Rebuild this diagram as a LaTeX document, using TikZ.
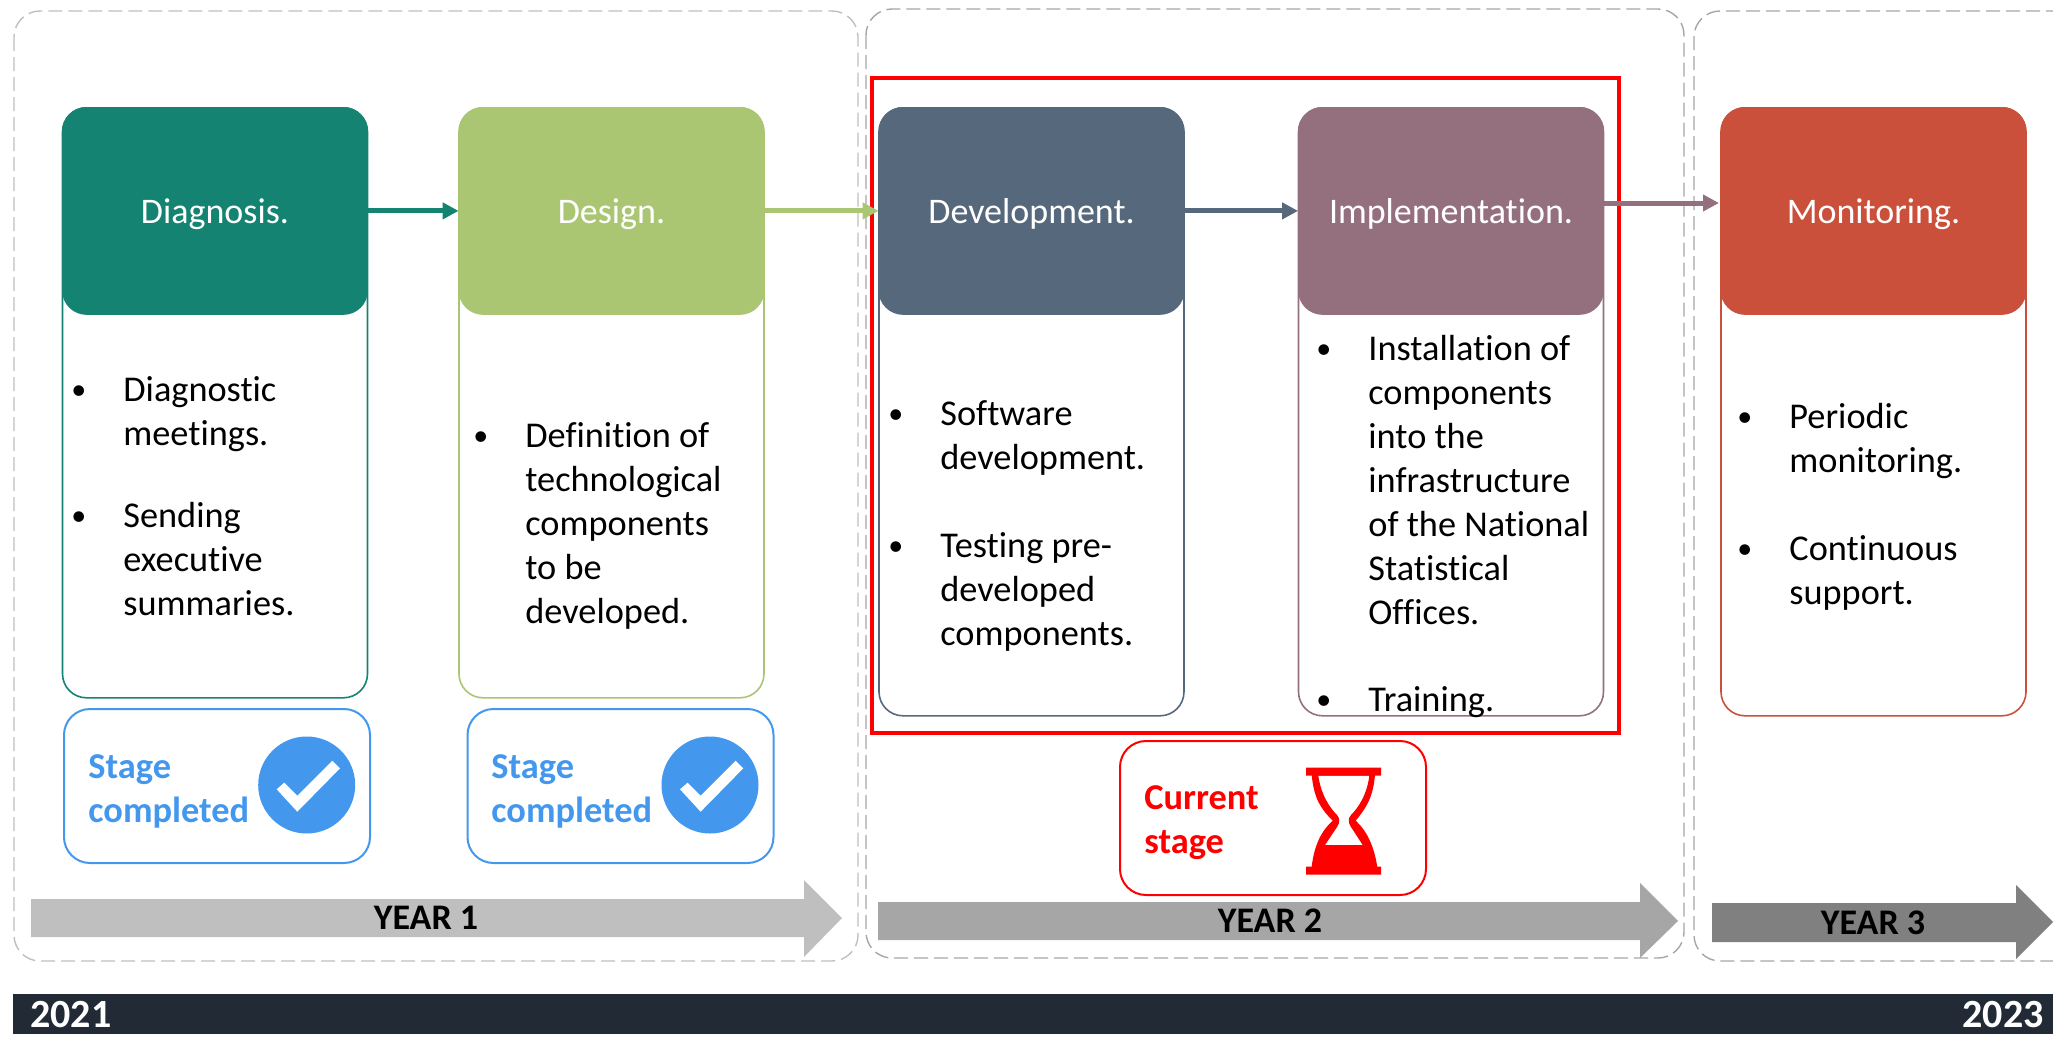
\documentclass[tikz,border=0pt]{standalone}
\usepackage{fontspec}
\setmainfont[Ligatures=NoCommon]{Carlito}
\usepackage{xcolor}
\usetikzlibrary{arrows.meta}

\definecolor{diagcol}{HTML}{158371}
\definecolor{desicol}{HTML}{ABC672}
\definecolor{devecol}{HTML}{56687C}
\definecolor{implcol}{HTML}{94707F}
\definecolor{monicol}{HTML}{CB503C}
\definecolor{stagecol}{HTML}{4398EE}
\definecolor{barcol}{HTML}{222A35}

\newcommand{\bodyfont}{\fontsize{18.15}{22}\selectfont}
\newcommand{\bul}{\raisebox{1pt}{\fontsize{15}{15}\selectfont\textbullet}}

\tikzset{
  phase/.style={draw=#1, fill=#1, rounded corners=12pt, minimum width=152.5pt, minimum height=103.5pt,
                anchor=north, text=white, text height=13pt, text depth=0pt, font=\fontsize{18}{22}\selectfont},
  body/.style={draw=#1, line width=0.8pt, fill=white, rounded corners=12pt, minimum width=152.5pt, anchor=north},
  flow/.style={-{Triangle[length=8pt,width=8pt]}, line width=2.5pt, draw=#1},
  yearbox/.style={draw=#1, dash pattern=on 7pt off 3pt, line width=0.7pt, rounded corners=13pt},
  yeararrow/.style={fill=#1, draw=none},
  yearlabel/.style={font=\bfseries\fontsize{18}{22}\selectfont},
  stagebox/.style={draw=#1, line width=1pt, rounded corners=13pt, minimum width=153pt, minimum height=77pt},
  stagetext/.style={text=#1, inner sep=0pt, font=\bfseries\fontsize{18.2}{22}\selectfont, align=left, anchor=west},
  itemlist/.style={anchor=north west, inner sep=0pt, font=\bodyfont},
  check/.style={fill=stagecol, circle, minimum size=48.5pt, inner sep=0pt},
  yearend/.style={text=white, font=\bfseries\fontsize{20}{24}\selectfont, inner sep=0pt},
}

\begin{document}
\begin{tikzpicture}[x=0.5pt, y=-0.5pt]
  \useasboundingbox (0,0) rectangle (2053,1049);

  % year frames
  \draw[yearbox=black!25] (14,11) rectangle (858,961);
  \draw[yearbox=black!35] (866,9) rectangle (1684,958);
  \draw[yearbox=black!35] (2080,11) -- (1694,11) -- (1694,961) -- (2080,961);

  % bodies
  \node[body=diagcol, minimum height=295pt] (Bdiag) at (215,107) {};
  \node[body=desicol, minimum height=295pt] (Bdesi) at (611.5,107) {};
  \node[body=devecol, minimum height=304pt] (Bdeve) at (1031.5,107) {};
  \node[body=implcol, minimum height=304pt] (Bimpl) at (1451,107) {};
  \node[body=monicol, minimum height=304pt] (Bmoni) at (1873.5,107) {};

  % phases
  \node[phase=diagcol] (Diag) at (Bdiag.north) {Diagnosis.};
  \node[phase=desicol] (Desi) at (Bdesi.north) {Design.};
  \node[phase=devecol] (Deve) at (Bdeve.north) {Development.};
  \node[phase=implcol] (Impl) at (Bimpl.north) {Implementation.};
  \node[phase=monicol] (Moni) at (Bmoni.north) {Monitoring.};

  \draw[red, line width=1.6pt] (872,78) rectangle (1619,733);

  \coordinate (Iout) at (1604,203);
  \coordinate (Mint) at (1719,203);
  \draw[flow=diagcol] (Diag) -- (Desi);
  \draw[flow=desicol] (Desi) -- (Deve);
  \draw[flow=devecol] (Deve) -- (Impl);
  \draw[flow=implcol] (Iout) -- (Mint);

  % lists
  \node[itemlist] (Ldiag) at (71,370) {\begin{tabular}{@{}p{26pt}@{}l@{}}
    \bul & Diagnostic\\ & meetings.\\[19pt]
    \bul & Sending\\ & executive\\ & summaries.\end{tabular}};
  \node[itemlist] (Ldesi) at (473,416) {\begin{tabular}{@{}p{26pt}@{}l@{}}
    \bul & Definition of\\ & technological\\ & components\\ & to be\\ & developed.\end{tabular}};
  \node[itemlist] (Ldeve) at (888,394) {\begin{tabular}{@{}p{26pt}@{}l@{}}
    \bul & Software\\ & development.\\[22pt]
    \bul & Testing pre-\\ & developed\\ & components.\end{tabular}};
  \node[itemlist] (Limpl) at (1316,329) {\begin{tabular}{@{}p{26pt}@{}l@{}}
    \bul & Installation of\\ & components\\ & into the\\ & infrastructure\\ & of the National\\ & Statistical\\ & Offices.\\[21.5pt]
    \bul & Training.\end{tabular}};
  \node[itemlist] (Lmoni) at (1737,397) {\begin{tabular}{@{}p{26pt}@{}l@{}}
    \bul & Periodic\\ & monitoring.\\[22pt]
    \bul & Continuous\\ & support.\end{tabular}};

  % stage notes
  \node[stagebox=stagecol] (Sone) at (217,786) {};
  \node[stagebox=stagecol] (Stwo) at (620.5,786) {};
  \node[stagebox=red] (Snow) at (1273,818) {};
  \node[stagetext=stagecol] (Tone) at (88,791) {Stage\\completed};
  \node[stagetext=stagecol] (Ttwo) at (491,791) {Stage\\completed};
  \node[stagetext=red] (Tnow) at (1144,823) {Current\\stage};

  \node[check] (Cone) at (306.7,785) {};
  \node[check] (Ctwo) at (710,785) {};
  \foreach \mk in {Cone,Ctwo}
    \fill[white, shift={(\mk)}] (-30,4.3) -- (-22.4,-2.3) -- (-9.4,10.7) -- (25.6,-24.3) -- (33.3,-16.7) -- (-9.4,26.7) -- cycle;

  % hourglass
  \fill[red] (1306,767.5) rectangle (1381,775.7) (1306,866.7) rectangle (1381,874.5);
  \fill[red, even odd rule]
     (1311.7,775) .. controls (1314,798) and (1320,808) .. (1332.7,820.7) .. controls (1322,830) and (1314,845) .. (1311.7,867)
     -- (1377.3,867) .. controls (1374,845) and (1366,830) .. (1355.7,820.7) .. controls (1366,808) and (1373,798) .. (1375,775) -- cycle
     (1318.3,775.7) .. controls (1321,795) and (1330,808) .. (1337,815) .. controls (1340,818) and (1340,823) .. (1337,827) -- (1325,845)
     -- (1362.7,845) -- (1351,827) .. controls (1348,823) and (1348,818) .. (1351,815) .. controls (1358,808) and (1367,795) .. (1369.3,775.7) -- cycle;

  % year arrows
  \fill[yeararrow=black!25] (31,899) -- (804,899) -- (804,880) -- (842,918) -- (804,957) -- (804,937) -- (31,937) -- cycle;
  \fill[yeararrow=black!35] (878,902) -- (1640,902) -- (1640,883) -- (1678,921) -- (1640,958) -- (1640,940) -- (878,940) -- cycle;
  \fill[yeararrow=black!50] (1712,903) -- (2016,903) -- (2016,885) -- (2053,922) -- (2016,959) -- (2016,942) -- (1712,942) -- cycle;
  \node[yearlabel] (Yone) at (426,918) {YEAR 1};
  \node[yearlabel] (Ytwo) at (1270,921) {YEAR 2};
  \node[yearlabel] (Ythr) at (1873,923) {YEAR 3};

  % time bar
  \fill[barcol] (13,994) rectangle (2053,1034);
  \node[yearend, anchor=west] (Ystart) at (30,1015) {2021};
  \node[yearend, anchor=east] (Yend) at (2044,1015) {2023};
\end{tikzpicture}
\end{document}
